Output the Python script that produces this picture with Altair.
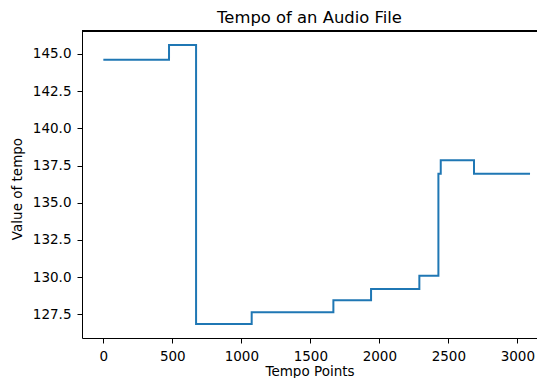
import altair as alt
import pandas as pd

# Tempo change points (step-after): x position and tempo value
tempo_points = [0, 476, 672, 1075, 1667, 1940, 2290, 2428, 2445, 2686, 3092]
tempo_values = [144.6, 145.6, 126.85, 127.65, 128.45, 129.2, 130.1, 136.95, 137.85, 136.95, 136.95]

x_ticks = [0, 500, 1000, 1500, 2000, 2500, 3000]
y_ticks = [127.5, 130.0, 132.5, 135.0, 137.5, 140.0, 142.5, 145.0]

df = pd.DataFrame({"x": tempo_points, "y": tempo_values})

FONT = "DejaVu Sans"
W, H = 455, 307

ymin, ymax = min(tempo_values), max(tempo_values)
ym = 0.05 * (ymax - ymin)
xmin, xmax = min(tempo_points), max(tempo_points)
xm = 0.05 * (xmax - xmin)
x_right = (xmin - xm) + W / 0.138

line = alt.Chart(df).mark_line(
    interpolate="step-after", color="#1f77b4", strokeWidth=2
).encode(
    x=alt.X("x:Q", title="Tempo Points",
            scale=alt.Scale(domain=[xmin - xm, x_right], nice=False, zero=False),
            axis=alt.Axis(values=x_ticks, format="d", grid=False, titlePadding=2)),
    y=alt.Y("y:Q", title="Value of tempo",
            scale=alt.Scale(domain=[ymin - ym, ymax + ym], nice=False, zero=False),
            axis=alt.Axis(values=y_ticks, format=".1f", grid=False,
                          titleX=-65, titleY=H / 2 + 4, titleBaseline="middle",
                          titleAngle=-90, titleAlign="center")),
)

top_spine = alt.Chart(df).mark_rule(color="black", strokeWidth=1).encode(
    x=alt.value(0), x2=alt.value(W), y=alt.value(0)
)

chart = alt.layer(line, top_spine).properties(
    width=W, height=H,
    title=alt.TitleParams("Tempo of an Audio File", font=FONT, fontSize=16.4,
                          fontWeight="normal", color="black",
                          offset=4, anchor="middle"),
    autosize=alt.AutoSizeParams(type="none"),
    padding={"left": 74, "top": 23, "right": 0, "bottom": 40},
).configure_view(stroke=None).configure_axis(
    labelFont=FONT, titleFont=FONT, labelFontSize=13.5, titleFontSize=13.5,
    titleFontWeight="normal", labelColor="black", titleColor="black",
    domainColor="black", tickColor="black", domainWidth=1, tickWidth=1,
    tickSize=5, labelPadding=6, labelFlush=False,
    labelOverlap=False,
)

chart.save("out.html", embed_options={"renderer": "svg", "actions": False})
